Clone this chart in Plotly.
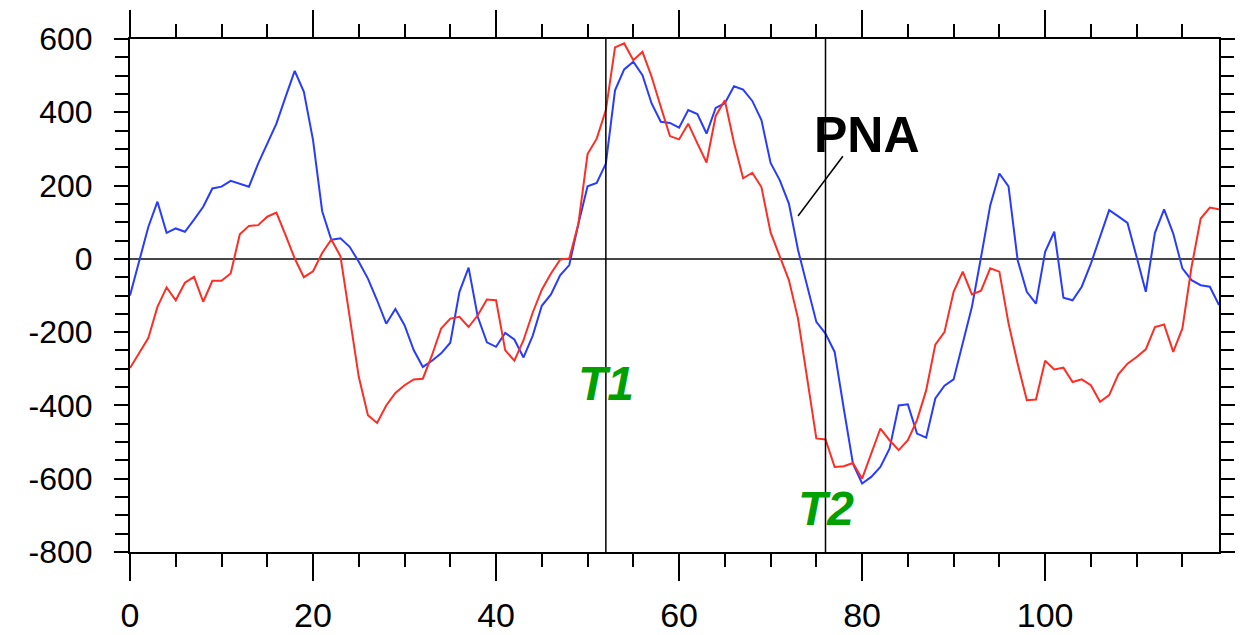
import plotly.graph_objects as go

months = list(range(120))

pna_blue = [
    -100, -5, 87, 156, 71, 83, 74, 107, 142, 192,
    197, 213, 206, 197, 260, 315, 369, 442, 513, 456,
    324, 130, 52, 56, 33, -8, -54, -113, -177, -137,
    -181, -249, -295, -278, -258, -229, -90, -24, -158, -228,
    -240, -202, -220, -269, -210, -128, -97, -45, -17, 96,
    198, 207, 260, 460, 517, 538, 501, 424, 374, 371,
    358, 406, 395, 342, 412, 425, 471, 462, 431, 379,
    262, 215, 151, 24, -76, -172, -204, -254, -409, -559,
    -613, -595, -568, -518, -400, -397, -477, -488, -381, -346,
    -329, -231, -131, 5, 146, 233, 198, -4, -90, -122,
    19, 74, -106, -113, -76, -13, 60, 133, 116, 98,
    5, -90, 71, 135, 69, -26, -58, -72, -76, -126,
]

pna_red = [
    -298, -255, -216, -131, -78, -113, -65, -49, -117, -60,
    -60, -40, 67, 90, 92, 115, 126, 65, 1, -50,
    -34, 16, 53, 7, -160, -322, -427, -448, -400, -366,
    -345, -329, -327, -263, -190, -163, -158, -186, -154, -111,
    -113, -249, -278, -222, -147, -84, -40, -2, 1, 96,
    286, 328, 406, 577, 588, 542, 565, 497, 415, 335,
    326, 369, 315, 263, 390, 433, 317, 220, 235, 196,
    72, 5, -58, -163, -322, -490, -493, -568, -566, -557,
    -600, -531, -463, -495, -522, -495, -440, -359, -234, -200,
    -90, -35, -97, -87, -26, -35, -176, -286, -386, -384,
    -278, -302, -297, -336, -329, -345, -390, -372, -315, -286,
    -268, -247, -186, -179, -254, -190, -22, 110, 140, 135,
]

x_ticks = [0, 20, 40, 60, 80, 100]
x_ticklabels = ["0", "20", "40", "60", "80", "100"]
y_ticks = [600, 400, 200, 0, -200, -400, -600, -800]
y_ticklabels = ["600", "400", "200", "0", "-200", "-400", "-600", "-800"]

event_times = [52, 76]
event_labels = ["T1", "T2"]
event_label_y = [-339, -681]

pna_label = "PNA"
pna_label_pos = (80.5, 338)
pna_pointer = (73.0, 117, 77.9, 280)

FONT = "Liberation Sans, Arial, Helvetica, sans-serif"

fig = go.Figure()
fig.add_trace(go.Scatter(x=months, y=pna_blue, mode="lines",
                         line=dict(color="rgb(40,60,255)", width=2), showlegend=False))
fig.add_trace(go.Scatter(x=months, y=pna_red, mode="lines",
                         line=dict(color="rgb(255,45,35)", width=2), showlegend=False))

for t, lab, ly in zip(event_times, event_labels, event_label_y):
    fig.add_shape(type="line", xref="x", yref="y", x0=t, x1=t, y0=-800, y1=600,
                  line=dict(color="black", width=1.5))
    fig.add_annotation(x=t, y=ly, xref="x", yref="y", text="<b><i>%s</i></b>" % lab,
                       showarrow=False, font=dict(family=FONT, size=48, color="rgb(0,160,0)"),
                       xanchor="center", yanchor="middle")

fig.add_annotation(x=pna_label_pos[0], y=pna_label_pos[1], xref="x", yref="y",
                   text="<b>%s</b>" % pna_label, showarrow=False,
                   font=dict(family=FONT, size=50, color="black"),
                   xanchor="center", yanchor="middle")
fig.add_shape(type="line", xref="x", yref="y",
              x0=pna_pointer[0], y0=pna_pointer[1], x1=pna_pointer[2], y1=pna_pointer[3],
              line=dict(color="black", width=1.5))

fig.update_xaxes(range=[0, 119], tickvals=x_ticks, ticktext=x_ticklabels,
                 ticks="outside", ticklen=27, tickwidth=2, tickcolor="black",
                 minor=dict(dtick=5, tick0=0, ticks="outside", ticklen=13, tickwidth=1.5,
                            tickcolor="black", showgrid=False),
                 showline=True, linecolor="black", linewidth=2, mirror="allticks",
                 showgrid=False, zeroline=False, automargin=False,
                 tickfont=dict(family=FONT, size=34, color="black"),
                 ticklabelstandoff=5)
fig.update_yaxes(range=[-800, 600], tickvals=y_ticks, ticktext=y_ticklabels,
                 ticks="outside", ticklen=14, tickwidth=2, tickcolor="black",
                 minor=dict(dtick=50, tick0=0, ticks="outside", ticklen=13, tickwidth=1.5,
                            tickcolor="black", showgrid=False),
                 showline=True, linecolor="black", linewidth=2, mirror="allticks",
                 showgrid=False, zeroline=True, zerolinecolor="rgb(70,70,70)", zerolinewidth=2,
                 automargin=False,
                 tickfont=dict(family=FONT, size=32, color="black"),
                 ticklabelstandoff=15)

# the page body has an 8px margin, so the figure is sized to fit the window
fig.update_layout(width=1239, height=627,
                  margin=dict(l=122, r=28, t=31, b=83),
                  paper_bgcolor="white", plot_bgcolor="white")

fig.write_html("out.html")
